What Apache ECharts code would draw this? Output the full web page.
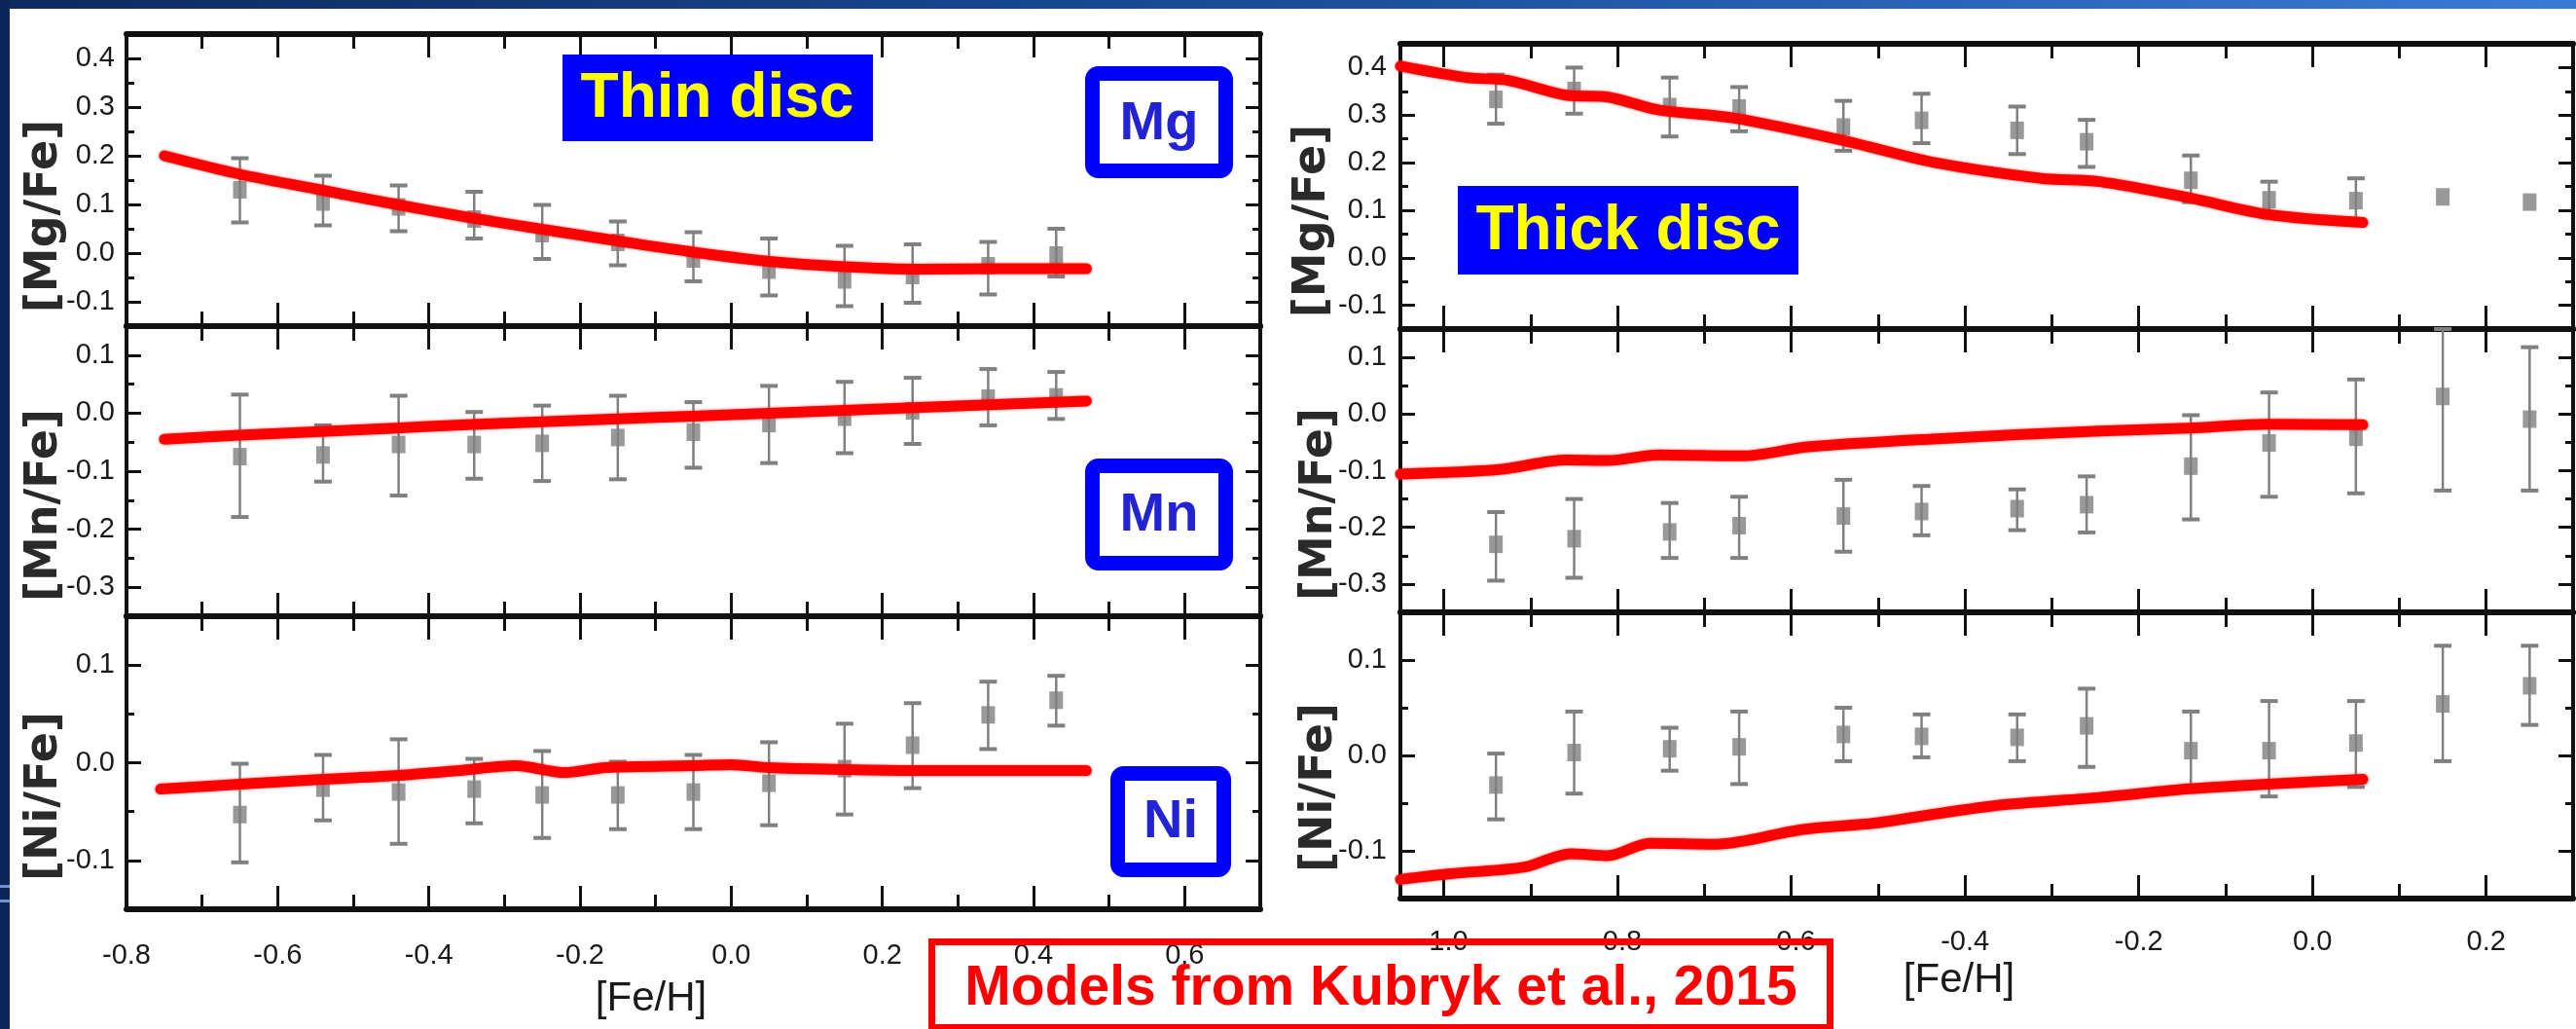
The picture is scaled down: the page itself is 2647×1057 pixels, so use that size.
<!DOCTYPE html>
<html>
<head>
<meta charset="utf-8">
<title>Thin / thick disc abundances vs Kubryk models</title>
<script src="https://cdn.jsdelivr.net/npm/echarts@6.0.0/dist/echarts.min.js"></script>
<style>
  html, body { margin: 0; padding: 0; background: #fff; }
  #chart { width: 2647px; height: 1057px; }
</style>
</head>
<body>
<div id="chart"></div>
<script>
// ---- thin disc (left column) ----
const feThin = [-0.65, -0.54, -0.44, -0.34, -0.25, -0.15, -0.05, 0.05, 0.15, 0.24, 0.34, 0.43];
const mgThin = [0.130, 0.105, 0.095, 0.070, 0.040, 0.022, -0.012, -0.035, -0.055, -0.046, -0.026, -0.004];
const mgThinLo = [0.063, 0.057, 0.045, 0.030, -0.012, -0.025, -0.058, -0.087, -0.109, -0.102, -0.085, -0.048];
const mgThinHi = [0.195, 0.159, 0.139, 0.126, 0.099, 0.065, 0.043, 0.030, 0.015, 0.018, 0.023, 0.050];
const mnThin = [-0.075, -0.072, -0.054, -0.054, -0.052, -0.042, -0.033, -0.018, -0.007, 0.004, 0.026, 0.028];
const mnThinLo = [-0.179, -0.118, -0.142, -0.113, -0.117, -0.114, -0.094, -0.086, -0.069, -0.053, -0.021, -0.010];
const mnThinHi = [0.032, -0.021, 0.030, 0.002, 0.013, 0.030, 0.019, 0.047, 0.054, 0.061, 0.076, 0.071];
const niThin = [-0.053, -0.026, -0.030, -0.027, -0.033, -0.033, -0.030, -0.021, -0.006, 0.018, 0.049, 0.064];
const niThinLo = [-0.102, -0.059, -0.083, -0.062, -0.077, -0.068, -0.068, -0.064, -0.053, -0.026, 0.014, 0.038];
const niThinHi = [-0.001, 0.008, 0.024, 0.004, 0.012, 0.001, 0.008, 0.021, 0.040, 0.061, 0.083, 0.089];

// model curves, thin disc
const modelFeThin = [-0.75, -0.65, -0.55, -0.45, -0.35, -0.25, -0.15, -0.05, 0.05, 0.15, 0.25, 0.35, 0.47];
const mgThinModel = [0.200, 0.162, 0.132, 0.102, 0.074, 0.049, 0.025, 0.002, -0.017, -0.028, -0.033, -0.032, -0.032];
const mnThinModel = [-0.045, -0.038, -0.032, -0.026, -0.020, -0.015, -0.010, -0.005, 0.000, 0.005, 0.010, 0.015, 0.021];
const niModelFeThin = [-0.755, -0.65, -0.54, -0.44, -0.36, -0.285, -0.22, -0.166, -0.05, 0.0, 0.05, 0.15, 0.24, 0.47];
const niThinModel = [-0.027, -0.022, -0.017, -0.013, -0.008, -0.003, -0.010, -0.005, -0.003, -0.002, -0.005, -0.007, -0.008, -0.008];

// ---- thick disc (right column) ----
const feThick = [-0.94, -0.85, -0.74, -0.66, -0.54, -0.45, -0.34, -0.26, -0.14, -0.05, 0.05, 0.15, 0.25];
const mgThick = [0.333, 0.352, 0.318, 0.315, 0.275, 0.289, 0.268, 0.244, 0.163, 0.122, 0.120, 0.128, 0.117];
const mgThickLo = [0.282, 0.303, 0.255, 0.266, 0.225, 0.241, 0.218, 0.191, 0.117, 0.088, 0.074, null, null];
const mgThickHi = [0.385, 0.400, 0.379, 0.359, 0.330, 0.345, 0.318, 0.290, 0.215, 0.160, 0.167, null, null];
const mnThick = [-0.230, -0.220, -0.208, -0.197, -0.180, -0.172, -0.167, -0.160, -0.092, -0.051, -0.041, 0.031, -0.009];
const mnThickLo = [-0.294, -0.289, -0.254, -0.254, -0.243, -0.214, -0.205, -0.209, -0.186, -0.146, -0.140, -0.135, -0.135];
const mnThickHi = [-0.173, -0.150, -0.157, -0.146, -0.116, -0.127, -0.133, -0.110, -0.002, 0.038, 0.061, 0.150, 0.118];
const niThick = [-0.031, 0.003, 0.007, 0.009, 0.022, 0.020, 0.019, 0.031, 0.005, 0.005, 0.013, 0.054, 0.073];
const niThickLo = [-0.067, -0.040, -0.016, -0.030, -0.006, -0.002, -0.006, -0.012, -0.036, -0.043, -0.033, -0.006, 0.032];
const niThickHi = [0.002, 0.046, 0.029, 0.046, 0.050, 0.043, 0.043, 0.070, 0.046, 0.057, 0.057, 0.115, 0.115];

// model curves, thick disc
const mgModelFeThick = [-1.05, -0.974, -0.926, -0.859, -0.811, -0.753, -0.667, -0.539, -0.437, -0.312, -0.245, -0.142, -0.052, 0.058];
const mgThickModel = [0.403, 0.379, 0.373, 0.342, 0.338, 0.311, 0.294, 0.246, 0.201, 0.167, 0.160, 0.126, 0.091, 0.074];
const mnModelFeThick = [-1.05, -0.936, -0.859, -0.811, -0.753, -0.657, -0.581, -0.437, -0.245, -0.142, -0.052, 0.058];
const mnThickModel = [-0.106, -0.098, -0.081, -0.082, -0.072, -0.074, -0.058, -0.044, -0.030, -0.025, -0.018, -0.019];
const niModelFeThick = [-1.05, -0.993, -0.907, -0.854, -0.811, -0.763, -0.686, -0.590, -0.504, -0.446, -0.360, -0.245, -0.142, -0.052, 0.058];
const niThickModel = [-0.130, -0.124, -0.117, -0.103, -0.105, -0.092, -0.093, -0.078, -0.071, -0.063, -0.052, -0.044, -0.035, -0.030, -0.025];

// ---- ticks ----
const xTicksThin = [-0.8, -0.6, -0.4, -0.2, 0, 0.2, 0.4, 0.6];
const xMinorThin = [-0.7, -0.5, -0.3, -0.1, 0.1, 0.3, 0.5];
const xTicksThick = [-1.0, -0.8, -0.6, -0.4, -0.2, 0, 0.2];
const xMinorThick = [-0.9, -0.7, -0.5, -0.3, -0.1, 0.1];
const mgTicks = [-0.1, 0, 0.1, 0.2, 0.3, 0.4];
const mgMinor = [-0.05, 0.05, 0.15, 0.25, 0.35];
const mnTicks = [-0.3, -0.2, -0.1, 0, 0.1];
const mnMinor = [-0.25, -0.15, -0.05, 0.05];
const niTicks = [-0.1, 0, 0.1];
const niMinor = [-0.05, 0.05];

const INK = "#111";
const NARROW = "'Liberation Sans Narrow', 'Liberation Sans', Arial, sans-serif";
const BOLD = "'Liberation Sans', Arial, sans-serif";

const fmt = (v) => v.toFixed(1);

function tick(values, length) {
  return { show: true, inside: true, length, customValues: values, lineStyle: { color: INK, width: 3 } };
}

// four x axes per panel: bottom major/minor, top major/minor
function xAxesFor(grid, min, max, major, minor, margin) {
  const base = { type: "value", gridIndex: grid, min, max, splitLine: { show: false } };
  const line = (show) => ({ show, onZero: false, lineStyle: { color: INK, width: 6 } });
  const label = margin
    ? { show: true, customValues: major, margin, color: "#1a1a1a", fontSize: 29, fontFamily: NARROW, formatter: fmt }
    : { show: false };
  return [
    { ...base, position: "bottom", axisLine: line(true), axisTick: tick(major, 24), axisLabel: label },
    { ...base, position: "bottom", axisLine: line(false), axisTick: tick(minor, 15), axisLabel: { show: false } },
    { ...base, position: "top", axisLine: line(true), axisTick: tick(major, 24), axisLabel: { show: false } },
    { ...base, position: "top", axisLine: line(false), axisTick: tick(minor, 15), axisLabel: { show: false } },
  ];
}

function yAxesFor(grid, min, max, major, minor, margin) {
  const base = { type: "value", gridIndex: grid, min, max, splitLine: { show: false } };
  const line = (show) => ({ show, onZero: false, lineStyle: { color: INK, width: 4 } });
  return [
    { ...base, position: "left", axisLine: line(true), axisTick: tick(major, 15),
      axisLabel: { show: true, customValues: major, margin, color: "#1a1a1a", fontSize: 29, fontFamily: NARROW, formatter: fmt } },
    { ...base, position: "left", axisLine: line(false), axisTick: tick(minor, 8), axisLabel: { show: false } },
    { ...base, position: "right", axisLine: line(true), axisTick: tick(major, 15), axisLabel: { show: false } },
    { ...base, position: "right", axisLine: line(false), axisTick: tick(minor, 8), axisLabel: { show: false } },
  ];
}

function renderErrorBar(params, api) {
  const x = api.value(0);
  const lo = api.coord([x, api.value(1)]);
  const hi = api.coord([x, api.value(2)]);
  const w = 9;
  const st = { stroke: "#808080", lineWidth: 2.5 };
  const cap = { stroke: "#808080", lineWidth: 4 };
  return {
    type: "group",
    children: [
      { type: "line", shape: { x1: lo[0], y1: lo[1], x2: hi[0], y2: hi[1] }, style: st },
      { type: "line", shape: { x1: lo[0] - w, y1: lo[1], x2: lo[0] + w, y2: lo[1] }, style: cap },
      { type: "line", shape: { x1: hi[0] - w, y1: hi[1], x2: hi[0] + w, y2: hi[1] }, style: cap },
    ],
  };
}

function panelSeries(axis, fe, val, lo, hi, modelFe, model) {
  const bars = fe.map((x, i) => [x, lo[i], hi[i]]).filter((d) => d[1] !== null);
  return [
    { type: "custom", xAxisIndex: axis, yAxisIndex: axis, renderItem: renderErrorBar,
      encode: { x: 0, y: [1, 2] }, data: bars, silent: true, z: 2 },
    { type: "scatter", xAxisIndex: axis, yAxisIndex: axis, symbol: "rect", symbolSize: [14, 18],
      itemStyle: { color: "#808080" }, data: fe.map((x, i) => [x, val[i]]), silent: true, z: 3 },
    { type: "line", xAxisIndex: axis, yAxisIndex: axis, symbol: "none", smooth: 0.3, silent: true, z: 4,
      lineStyle: { color: "#ff0000", width: 11, cap: "round", join: "round", shadowBlur: 3, shadowColor: "rgba(255,0,0,0.6)" },
      data: modelFe.map((x, i) => [x, model[i]]) },
  ];
}

// grid boxes in pixels
const grids = [
  { left: 130, top: 35, width: 1165, height: 300 },
  { left: 130, top: 335, width: 1165, height: 298 },
  { left: 130, top: 633, width: 1165, height: 301 },
  { left: 1439, top: 45, width: 1205, height: 293 },
  { left: 1439, top: 338, width: 1205, height: 291 },
  { left: 1439, top: 629, width: 1205, height: 294 },
].map((g) => ({ ...g, outerBoundsMode: "none", containLabel: false }));

const xAxis = [
  ...xAxesFor(0, -0.8, 0.7, xTicksThin, xMinorThin, 0),
  ...xAxesFor(1, -0.8, 0.7, xTicksThin, xMinorThin, 0),
  ...xAxesFor(2, -0.8, 0.7, xTicksThin, xMinorThin, 33),
  ...xAxesFor(3, -1.05, 0.3, xTicksThick, xMinorThick, 0),
  ...xAxesFor(4, -1.05, 0.3, xTicksThick, xMinorThick, 0),
  ...xAxesFor(5, -1.05, 0.3, xTicksThick, xMinorThick, 30),
];
const yAxis = [
  ...yAxesFor(0, -0.15, 0.45, mgTicks, mgMinor, 12),
  ...yAxesFor(1, -0.35, 0.15, mnTicks, mnMinor, 12),
  ...yAxesFor(2, -0.15, 0.15, niTicks, niMinor, 12),
  ...yAxesFor(3, -0.15, 0.45, mgTicks, mgMinor, 14),
  ...yAxesFor(4, -0.35, 0.15, mnTicks, mnMinor, 14),
  ...yAxesFor(5, -0.15, 0.15, niTicks, niMinor, 14),
];

const series = [
  ...panelSeries(0, feThin, mgThin, mgThinLo, mgThinHi, modelFeThin, mgThinModel),
  ...panelSeries(4, feThin, mnThin, mnThinLo, mnThinHi, modelFeThin, mnThinModel),
  ...panelSeries(8, feThin, niThin, niThinLo, niThinHi, niModelFeThin, niThinModel),
  ...panelSeries(12, feThick, mgThick, mgThickLo, mgThickHi, mgModelFeThick, mgThickModel),
  ...panelSeries(16, feThick, mnThick, mnThickLo, mnThickHi, mnModelFeThick, mnThickModel),
  ...panelSeries(20, feThick, niThick, niThickLo, niThickHi, niModelFeThick, niThickModel),
];

function text(x, y, str, size, color, family, weight, rot) {
  return {
    type: "text", x, y, rotation: rot || 0, z: 100, silent: true,
    style: { text: str, fill: color, fontSize: size, fontFamily: family, fontWeight: weight || "normal",
      align: "center", verticalAlign: "middle", textAlign: "center", textVerticalAlign: "middle" },
  };
}

function elementBox(x, y, w, h, str, tx, ty) {
  // blue framed box with element symbol
  return [
    { type: "rect", z: 99, silent: true, shape: { x: x + 7.5, y: y + 7.5, width: w - 15, height: h - 15, r: 6 },
      style: { fill: "#fff", stroke: "#0000ff", lineWidth: 15 } },
    text(tx, ty, str, 56, "#2323d6", BOLD, "bold"),
  ];
}

const AXNAME = "DejaVu Sans, Verdana, sans-serif";
const graphic = [
  { type: "rect", z: 100, silent: true, shape: { x: 0, y: 0, width: 2647, height: 9 },
    style: { fill: { type: "linear", x: 0, y: 0, x2: 1, y2: 0,
      colorStops: [{ offset: 0, color: "#0e2a5e" }, { offset: 0.5, color: "#1a4d9a" }, { offset: 1, color: "#3a7bd6" }] } } },
  { type: "rect", z: 100, silent: true, shape: { x: 0, y: 0, width: 10, height: 1057 }, style: { fill: "#0d2658" } },
  { type: "rect", z: 101, silent: true, shape: { x: 0, y: 909, width: 10, height: 3 }, style: { fill: "#7090d0" } },
  { type: "rect", z: 101, silent: true, shape: { x: 0, y: 924, width: 10, height: 3 }, style: { fill: "#7090d0" } },

  { type: "rect", z: 99, silent: true, shape: { x: 578, y: 56, width: 319, height: 89 }, style: { fill: "#0000ff" } },
  text(737, 102, "Thin disc", 64, "#ffff00", BOLD, "bold"),
  { type: "rect", z: 99, silent: true, shape: { x: 1498, y: 191, width: 350, height: 91 }, style: { fill: "#0000ff" } },
  text(1673, 238, "Thick disc", 64, "#ffff00", BOLD, "bold"),

  ...elementBox(1115, 68, 152, 115, "Mg", 1191, 128),
  ...elementBox(1115, 471, 152, 115, "Mn", 1191, 530),
  ...elementBox(1141, 787, 124, 114, "Ni", 1203, 845),

  text(46, 222, "[Mg/Fe]", 46, "#2a2a2a", AXNAME, "bold", Math.PI / 2),
  text(46, 519, "[Mn/Fe]", 46, "#2a2a2a", AXNAME, "bold", Math.PI / 2),
  text(46, 818, "[Ni/Fe]", 46, "#2a2a2a", AXNAME, "bold", Math.PI / 2),
  text(1349, 227, "[Mg/Fe]", 46, "#2a2a2a", AXNAME, "bold", Math.PI / 2),
  text(1356, 518, "[Mn/Fe]", 46, "#2a2a2a", AXNAME, "bold", Math.PI / 2),
  text(1356, 809, "[Ni/Fe]", 46, "#2a2a2a", AXNAME, "bold", Math.PI / 2),
  text(669, 1026, "[Fe/H]", 42, "#1a1a1a", NARROW),
  text(2013, 1007, "[Fe/H]", 42, "#1a1a1a", NARROW),

  // credit box, drawn over the tick labels like in the slide
  { type: "rect", z: 110, silent: true, shape: { x: 957.5, y: 967.5, width: 923, height: 88 },
    style: { fill: "none", stroke: "#ff0000", lineWidth: 7 } },
  { ...text(1419, 1016, "Models from Kubryk et al., 2015", 57, "#ff0000", BOLD, "bold"), z: 111 },
];

const chart = echarts.init(document.getElementById("chart"));
chart.setOption({
  animation: false,
  backgroundColor: "#fff",
  grid: grids,
  xAxis,
  yAxis,
  series,
  graphic,
});
</script>
</body>
</html>
